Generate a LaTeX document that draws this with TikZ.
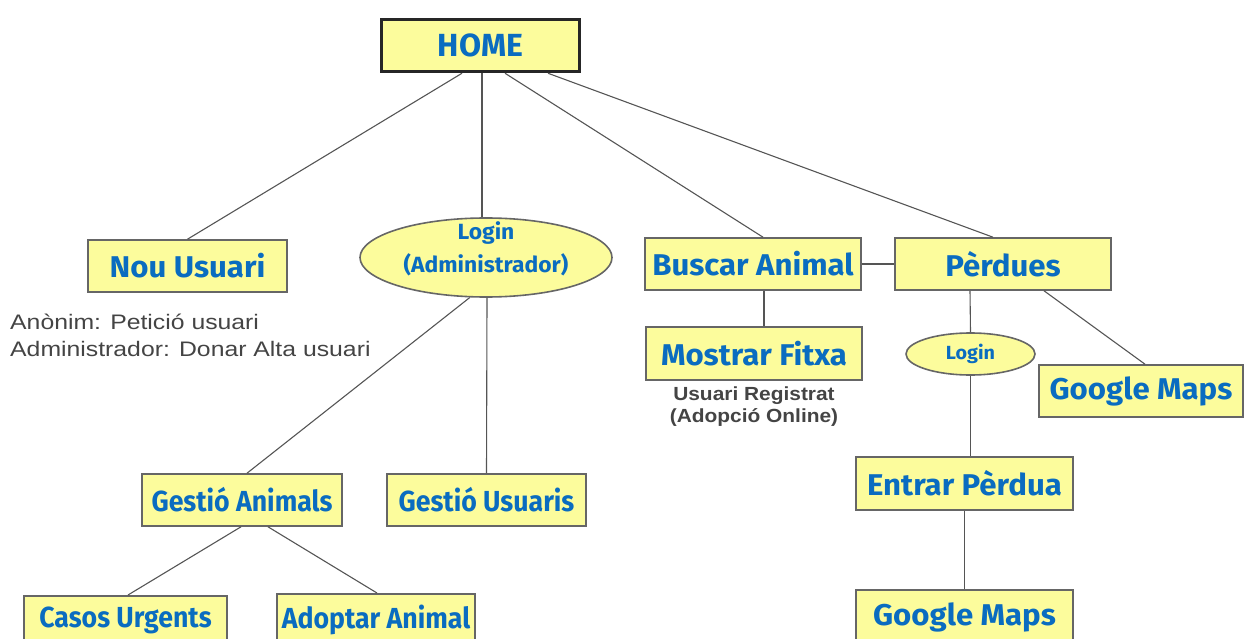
\documentclass[tikz,border=0pt]{standalone}
\usepackage{fontspec}
\setmainfont{Liberation Sans}
\newfontfamily\boxfont{Fira Sans}
\newfontfamily\boxfontwide[FakeStretch=1.04]{Fira Sans}
\newfontfamily\boxfontnarrow[FakeStretch=0.92]{Fira Sans}
\newfontfamily\notefont[FakeStretch=1.18]{Liberation Sans}
\newfontfamily\notefontb[FakeStretch=1.1]{Liberation Sans}
\usetikzlibrary{shapes.geometric}
\definecolor{boxfill}{HTML}{FCFC9C}
\definecolor{boxline}{HTML}{666666}
\definecolor{txtblue}{HTML}{0A6CC0}
\definecolor{linegray}{HTML}{555555}
\definecolor{notegray}{HTML}{444444}
\tikzset{
  box/.style={draw=boxline, line width=1.6pt, fill=boxfill, rectangle, inner sep=0pt,
    text=txtblue, font=\boxfontwide\bfseries\fontsize{30}{32}\selectfont},
  narrowbox/.style={box, font=\boxfontnarrow\bfseries\fontsize{29}{31}\selectfont},
  homebox/.style={box, draw=black!85, line width=3.5pt, font=\boxfont\bfseries\fontsize{32}{34}\selectfont},
  oval/.style={draw=boxline, line width=1.6pt, fill=boxfill, ellipse, inner sep=0pt,
    text=txtblue, align=center},
  conn/.style={draw=linegray, line width=1.1pt},
  note/.style={text=notegray, inner sep=0pt, align=left},
}
\begin{document}
\begin{tikzpicture}[x=1pt,y=-1pt]
\useasboundingbox (0,0) rectangle (1244,639);
% nodes
\node[homebox, minimum width=198pt, minimum height=52pt] (home) at (480.5,45.5) {HOME};
\node[box, minimum width=199pt, minimum height=52pt] (nou) at (187.5,266) {Nou Usuari};
\node[oval, minimum width=252pt, minimum height=79pt,
  font=\boxfontwide\bfseries\fontsize{22}{26}\selectfont] (login) at (486,257.5)
  {\smash{\raisebox{1.5pt}{\begin{tabular}{@{}c@{}}Login\\[7pt](Administrador)\end{tabular}}}};
\node[box, minimum width=216pt, minimum height=52pt] (buscar) at (753,264) {Buscar Animal};
\node[box, minimum width=216pt, minimum height=52pt] (perdues) at (1003,264) {Pèrdues};
\node[box, minimum width=216pt, minimum height=53pt] (mostrar) at (754,353.5) {Mostrar Fitxa};
\node[oval, minimum width=129pt, minimum height=42pt,
  font=\boxfontwide\bfseries\fontsize{19}{21}\selectfont] (login2) at (970.5,354) {Login};
\node[box, minimum width=204pt, minimum height=52pt] (gmaps1) at (1141,391) {Google Maps};
\node[box, minimum width=217pt, minimum height=53pt] (entrar) at (964.5,483.5) {Entrar Pèrdua};
\node[box, minimum width=217pt, minimum height=56pt, anchor=north] (gmaps2) at (964.5,589) {Google Maps};
\node[narrowbox, minimum width=200pt, minimum height=52pt] (ganim) at (242,500) {Gestió Animals};
\node[narrowbox, minimum width=199pt, minimum height=52pt] (gusu) at (486.5,500) {Gestió Usuaris};
\node[narrowbox, minimum width=203pt, minimum height=50pt, anchor=north] (casos) at (125.5,595) {Casos Urgents};
\node[narrowbox, minimum width=198pt, minimum height=52pt, anchor=north] (adoptar) at (376,593) {Adoptar Animal};
% notes
\node[note, anchor=north west, font=\notefont\fontsize{21}{27}\selectfont] (nounote) at (10,314)
  {Anònim: Petició usuari\\Administrador: Donar Alta usuari};
\node[note, anchor=north, align=center, font=\notefontb\bfseries\fontsize{19}{22}\selectfont] (mostnote) at (754,387)
  {Usuari Registrat\\(Adopció Online)};
% connectors
\draw[conn] ([xshift=-18.5pt]home.south) -- (nou.north);
\draw[conn] ([xshift=1.5pt]home.south) -- ([xshift=-4pt]login.north);
\draw[conn] ([xshift=24.5pt]home.south) -- ([xshift=10pt]buscar.north);
\draw[conn] ([xshift=67.5pt]home.south) -- ([xshift=-10pt]perdues.north);
\draw[conn] (buscar.east) -- (perdues.west);
\draw[conn] ([xshift=11pt]buscar.south) -- ([xshift=10pt]mostrar.north);
\draw[conn] ([xshift=-33pt]perdues.south) -- (login2.north);
\draw[conn] ([xshift=41pt]perdues.south) -- ([xshift=4pt]gmaps1.north);
\draw[conn] (login2.south) -- ([xshift=6pt]entrar.north);
\draw[conn] (entrar.south) -- (gmaps2.north);
\draw[conn] (login.-112) -- ([xshift=5pt]ganim.north);
\draw[conn] ([xshift=1pt]login.south) -- (gusu.north);
\draw[conn] ([xshift=-1pt]ganim.south) -- ([xshift=2.5pt]casos.north);
\draw[conn] ([xshift=26pt]ganim.south) -- ([xshift=1pt]adoptar.north);
\end{tikzpicture}
\end{document}
